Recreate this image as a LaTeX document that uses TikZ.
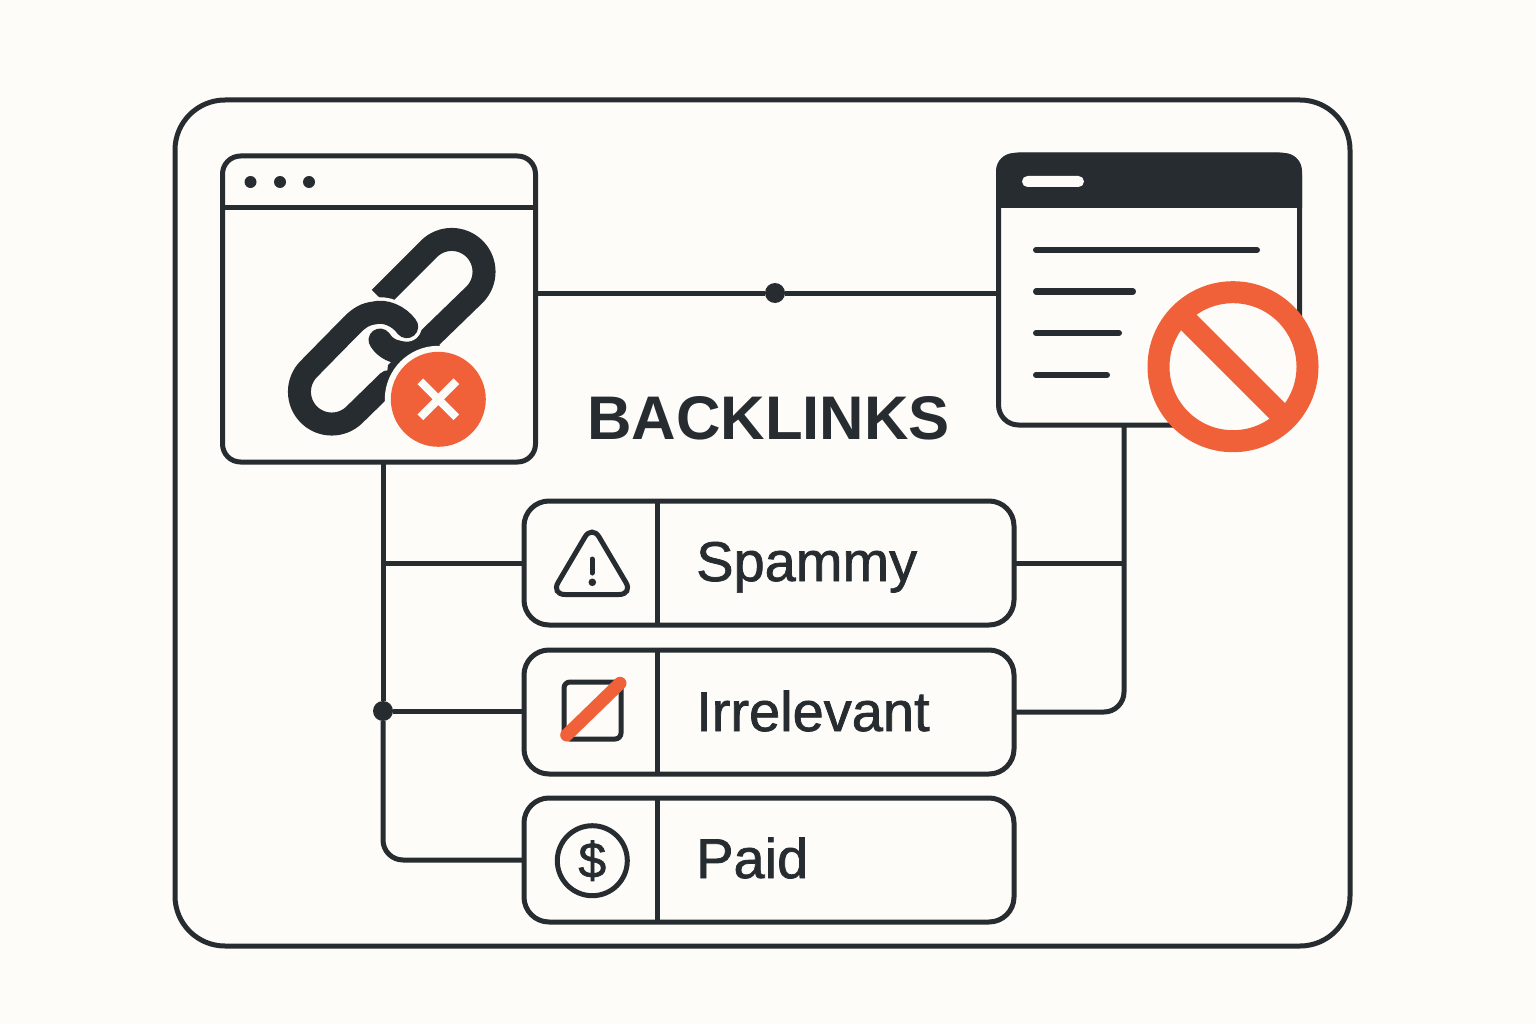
\documentclass[tikz,border=0pt]{standalone}
\usepackage{fontspec}
\setmainfont{Liberation Sans}
\newfontfamily\rowfont[FakeBold=1.3]{Liberation Sans}
\usepackage{xcolor}
\usetikzlibrary{positioning,calc}
\definecolor{paper}{RGB}{253,252,248}
\definecolor{ink}{RGB}{39,44,48}
\definecolor{flagred}{RGB}{240,97,58}

\begin{document}
\begin{tikzpicture}[
    x=1pt, y=-1pt,
    wire/.style={draw=ink, line width=5pt},
    window_box/.style={rectangle, draw=ink, fill=paper, line width=5pt, rounded corners=18pt, inner sep=0pt, outer sep=0pt},
    row_box/.style={rectangle, draw=ink, fill=paper, line width=5pt, rounded corners=25pt, minimum width=490pt, minimum height=124pt, inner sep=0pt, outer sep=0pt},
    row_label/.style={anchor=base west, inner sep=0pt, text=ink, font=\rowfont\fontsize{56}{60}\selectfont},
    joint/.style={circle, fill=ink, minimum size=20pt, inner sep=0pt, outer sep=0pt},
    link_band/.style={draw=ink, line width=23pt, line cap=round},
    text_bar/.style={draw=ink, line width=6pt, line cap=round}
]
\fill[paper] (0,0) rectangle (1536,1024);
\useasboundingbox (0,0) rectangle (1536,1024);

% Frame
\node[rectangle, draw=ink, line width=5pt, rounded corners=50pt, minimum width=1175pt, minimum height=846pt, inner sep=0pt] (frame) at (762.5,523) {};

% Nodes
\node[joint] (top_joint) at (775,293) {};
\node[joint] (side_joint) at (383,711) {};
\coordinate (page_drop) at (1124,563);
\node[window_box, minimum width=313pt, minimum height=306pt] (link_win) at (379,309) {};
\node[window_box, rounded corners=20pt, minimum width=301pt, minimum height=270pt] (page_win) at (1149,290) {};
\node[row_box] (spammy) at (769,563) {};
\node[row_box] (irrelevant) at (769,712) {};
\node[row_box] (paid) at (769,860) {};

% Edges
\draw[wire] (link_win.east |- top_joint) -- (top_joint) -- (page_win.west |- top_joint);
\draw[wire] (link_win.south -| side_joint) -- (side_joint);
\draw[wire, rounded corners=20pt] (side_joint) |- (paid.west);
\draw[wire] (side_joint) -- (side_joint -| irrelevant.west);
\draw[wire] (side_joint |- spammy.west) -- (spammy.west);
\draw[wire] (spammy.east) -- (page_drop);
\draw[wire, rounded corners=20pt] (page_win.south -| page_drop) |- (irrelevant.east);

% Row dividers and labels
\draw[wire] ([xshift=-112pt]spammy.north) -- ([xshift=-112pt]spammy.south);
\draw[wire] ([xshift=-112pt]irrelevant.north) -- ([xshift=-112pt]irrelevant.south);
\draw[wire] ([xshift=-112pt]paid.north) -- ([xshift=-112pt]paid.south);
\node[row_label] (spammy_text) at (696,581) {Spammy};
\node[row_label] (irrelevant_text) at (696,731) {Irrelevant};
\node[row_label] (paid_text) at (696,878) {Paid};
\node[anchor=base, inner sep=0pt, text=ink, font=\fontsize{61.6}{64}\selectfont\bfseries] (title) at (768.5,439) {BACKLINKS};

% Left window
\draw[wire] (link_win.west |- 0,208) -- (link_win.east |- 0,208);
\fill[ink] (250.5,182) circle (6) (280,182) circle (6) (309,182) circle (6);
\draw[link_band, line cap=butt] (380,298) -- (428.9,248.9) arc[start angle=225, end angle=405, radius=32.3] -- (426.7,341);
\draw[link_band] (426.7,341) .. controls (414,354) and (392,358) .. (380,340);
\fill[ink] (388,365) -- (415,340) -- (440,345) -- (420,380) -- (385,392) -- cycle;
\draw[draw=paper, line width=30pt, line cap=round] (406.7,326.7) .. controls (399,316) and (385,310) .. (374,313) .. controls (366,314) and (360,317) .. (352,325);
\draw[link_band] (406.7,326.7) .. controls (399,316) and (385,310) .. (374,313) .. controls (366,314) and (360,317) .. (352,325) -- (308.9,368.9) arc[start angle=225, end angle=45, radius=32.3] -- (388.3,381.7);
\fill[paper] (438.3,399.3) circle (53.5);
\fill[flagred] (438.3,399.3) circle (47.5);
\draw[draw=paper, line width=8pt] (420.3,381.3) -- (456.3,417.3) (456.3,381.3) -- (420.3,417.3);

% Right window
\fill[ink] (996,208) [rounded corners=18pt] -- (996,153) -- (1302,153) [sharp corners] -- (1302,208) -- cycle;
\fill[paper, rounded corners=5.5pt] (1022,176) rectangle (1084,187);
\draw[text_bar] (1036,250) -- (1257,250);
\draw[text_bar] (1036,291.5) -- (1133,291.5);
\draw[text_bar] (1036,333) -- (1119,333);
\draw[text_bar] (1036,375) -- (1107,375);
\draw[draw=flagred, fill=paper, line width=22pt] (1233,366.7) circle (74.5);
\draw[draw=flagred, line width=22pt] (1180.3,314) -- (1285.7,419.4);

% Row icons
\draw[wire, rounded corners=14pt] (592,525) -- (633,594.5) -- (551,594.5) -- cycle;
\draw[draw=ink, line width=5pt, line cap=round] (592,559) -- (592,573);
\fill[ink] (592.3,582.3) circle (3.8);
\draw[wire, rounded corners=6pt] (564,682) rectangle (621,739);
\draw[draw=flagred, line width=13pt, line cap=round] (566.7,735) -- (620,683.3);
\draw[wire] (592.3,860.7) circle (35);
\node[inner sep=0pt, text=ink, font=\rowfont\fontsize{50}{52}\selectfont] (dollar) at (592.3,860.7) {\$};
\end{tikzpicture}
\end{document}
